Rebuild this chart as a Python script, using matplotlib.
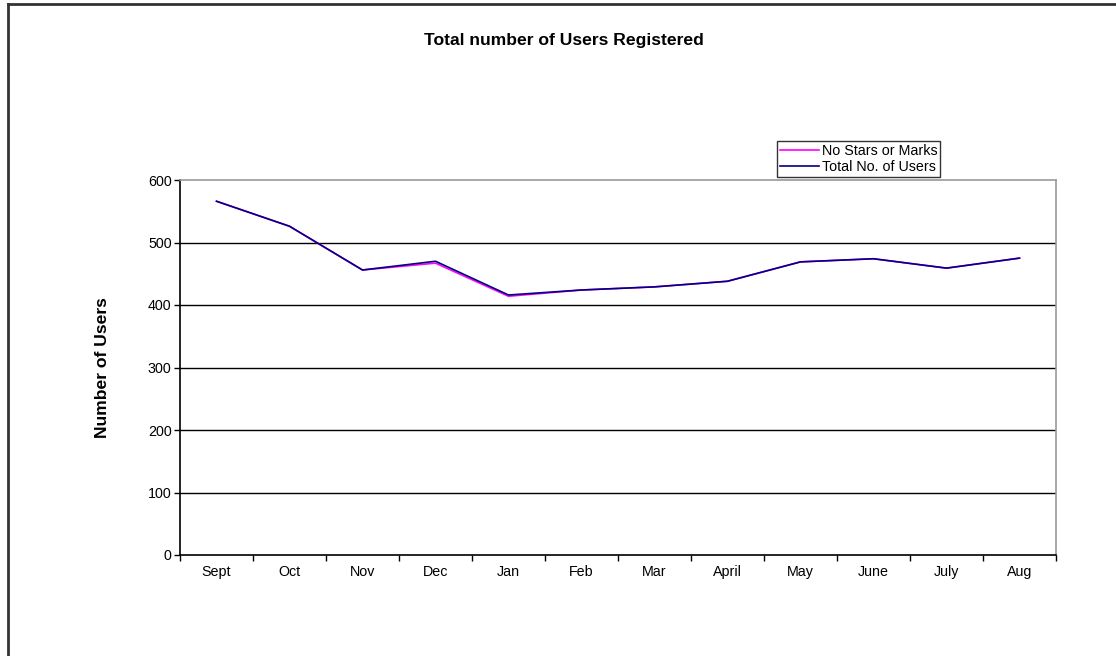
import matplotlib
matplotlib.use('Agg')
import matplotlib.pyplot as plt
from matplotlib.lines import Line2D

# Dados
months = ['Sept', 'Oct', 'Nov', 'Dec', 'Jan', 'Feb', 'Mar', 'April', 'May', 'June', 'July', 'Aug']
no_stars = [566, 526, 456, 467, 414, 424, 429, 438, 469, 474, 459, 475]
total_users = [566, 526, 456, 470, 416, 424, 429, 438, 469, 474, 459, 475]

plt.rcParams['font.family'] = ['Liberation Sans', 'DejaVu Sans']

fig = plt.figure(figsize=(11.16, 6.56), dpi=100)
ax = fig.add_axes([180 / 1116, 101 / 656, 876 / 1116, 375 / 656])

x = list(range(len(months)))
ax.plot(x, no_stars, color='#ff00ff', lw=1.2, label='No Stars or Marks')
ax.plot(x, total_users, color='#000080', lw=1.2, label='Total No. of Users')

ax.set_xlim(-0.5, len(months) - 0.5)
ax.set_ylim(0, 600)
ax.set_yticks(range(0, 601, 100))
ax.tick_params(axis='y', labelsize=10.3, direction='out', length=4, width=1, pad=2)

# ticks nas divisões das categorias, rótulos no meio
ax.set_xticks([i - 0.5 for i in range(len(months) + 1)])
ax.set_xticklabels([])
ax.set_xticks(x, minor=True)
ax.set_xticklabels(months, minor=True, fontsize=10.3)
ax.tick_params(axis='x', which='major', direction='out', length=4, width=1)
ax.tick_params(axis='x', which='minor', length=0, pad=7)

for v in range(100, 600, 100):
    ax.axhline(v, color='black', lw=1, zorder=0)

ax.spines['top'].set_color('#999999')
ax.spines['right'].set_color('#999999')
ax.spines['left'].set_color('black')
ax.spines['bottom'].set_color('black')
for s in ax.spines.values():
    s.set_linewidth(1.2)

ax.set_ylabel('Number of Users', fontsize=12.6, fontweight='bold', labelpad=27)

fig.text(564 / 1116, 1 - 40 / 656, 'Total number of Users Registered', ha='center', va='center',
         fontsize=12.6, fontweight='bold')

leg = ax.legend(loc='upper left', bbox_to_anchor=(777 / 1116, 1 - 141 / 656),
                bbox_transform=fig.transFigure, fontsize=10.3, frameon=True, fancybox=False,
                edgecolor='black', borderaxespad=0, handlelength=2.7, handletextpad=0.2,
                borderpad=0.22, labelspacing=0.15)
leg.get_frame().set_linewidth(1)

# moldura externa do gráfico (esquerda e topo)
fig.add_artist(Line2D([7.5 / 1116, 7.5 / 1116], [0, 1 - 3.5 / 656], transform=fig.transFigure,
                      color='#333333', lw=2))
fig.add_artist(Line2D([7.5 / 1116, 1], [1 - 3.5 / 656, 1 - 3.5 / 656], transform=fig.transFigure,
                      color='#333333', lw=2))

fig.savefig('out.png', dpi=100)
